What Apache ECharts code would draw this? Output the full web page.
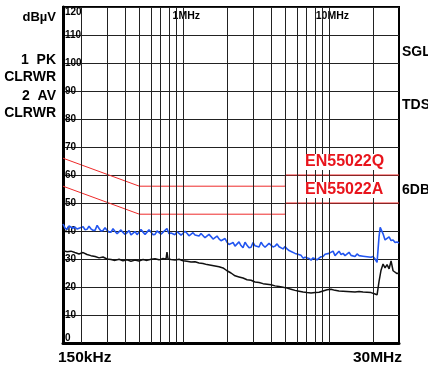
<!DOCTYPE html>
<html>
<head>
<meta charset="utf-8">
<script src="https://cdn.jsdelivr.net/npm/echarts@6/dist/echarts.min.js"></script>
<style>
html,body{margin:0;padding:0;background:#fff;}
#chart{width:428px;height:368px;}
</style>
</head>
<body>
<div id="chart"></div>
<script>
// Frequencies in MHz, levels in dBµV
const peakFreq = [0.150,0.155,0.160,0.165,0.170,0.175,0.181,0.187,0.193,0.199,0.206,0.212,0.219,0.226,0.233,0.241,0.249,0.257,0.265,0.273,0.282,0.291,0.300,0.310,0.320,0.330,0.341,0.352,0.363,0.374,0.386,0.399,0.412,0.425,0.438,0.452,0.467,0.482,0.497,0.513,0.530,0.547,0.564,0.582,0.601,0.620,0.640,0.661,0.682,0.704,0.726,0.749,0.773,0.798,0.824,0.850,0.877,0.906,0.935,0.965,0.995,1.027,1.060,1.094,1.129,1.165,1.203,1.241,1.281,1.322,1.364,1.408,1.453,1.500,1.548,1.598,1.649,1.702,1.756,1.813,1.871,1.931,1.992,2.056,2.122,2.190,2.260,2.332,2.407,2.484,2.564,2.646,2.731,2.819,2.910,3.003,3.099,3.198,3.301,3.407,3.516,3.629,3.745,3.865,3.989,4.117,4.249,4.385,4.526,4.671,4.820,4.975,5.134,5.299,5.469,5.644,5.825,6.012,6.204,6.403,6.608,6.820,7.038,7.263,7.496,7.735,7.982,8.238,8.502,8.775,9.057,9.347,9.646,9.953,10.27,10.60,10.94,11.29,11.65,12.03,12.42,12.81,13.22,13.64,14.08,14.53,15.00,15.48,15.98,16.49,17.02,17.56,18.12,18.70,19.30,19.92,20.56,21.23,21.90,22.30,23.33,24.08,24.85,25.66,26.47,27.32,28.19,29.10,30.00];
const peakLevel = [42.5,41.0,40.6,41.8,42.2,41.0,41.4,40.7,41.0,40.4,41.5,40.5,40.6,41.7,40.8,40.2,40.3,42.0,40.9,40.0,40.2,41.2,40.3,39.6,39.6,40.8,39.8,39.0,39.2,40.4,39.5,38.8,39.4,40.2,38.6,39.3,39.8,38.7,39.0,40.5,39.6,38.8,39.2,40.4,39.6,38.7,38.8,40.0,40.6,38.9,39.1,40.2,40.9,39.0,39.3,38.6,38.7,39.8,39.4,38.5,38.9,39.9,39.2,38.3,38.5,39.4,38.6,37.9,38.2,39.1,38.4,37.6,37.8,38.8,38.0,37.1,37.5,38.2,37.2,36.5,36.8,37.3,36.0,35.2,35.5,35.9,34.6,34.2,36.1,34.8,34.0,36.0,34.9,34.0,34.2,35.9,34.7,34.0,34.3,36.0,34.9,34.2,34.1,35.6,34.9,34.3,34.6,35.4,34.4,33.9,33.6,34.5,33.6,33.0,32.7,32.9,32.0,31.8,31.1,31.3,30.3,30.6,29.9,30.2,29.6,30.4,30.0,29.7,30.3,30.8,30.9,31.7,31.2,32.0,31.6,32.8,31.2,31.9,32.8,31.6,32.0,31.2,31.5,32.4,31.3,31.6,30.9,31.8,31.2,30.8,31.0,31.5,30.8,31.1,30.6,30.9,30.0,28.8,38.0,41.3,39.0,36.8,37.2,37.9,36.6,36.8,35.9,36.1,35.7];

const avgFreq = [0.150,0.160,0.170,0.181,0.193,0.206,0.219,0.233,0.249,0.265,0.282,0.300,0.320,0.341,0.363,0.386,0.412,0.438,0.467,0.497,0.530,0.564,0.601,0.640,0.682,0.726,0.761,0.773,0.786,0.824,0.877,0.935,0.995,1.060,1.129,1.203,1.281,1.364,1.453,1.548,1.649,1.756,1.871,1.992,2.122,2.260,2.407,2.564,2.731,2.910,3.099,3.301,3.516,3.745,3.989,4.249,4.526,4.820,5.134,5.469,5.825,6.204,6.608,7.038,7.496,7.982,8.502,9.057,9.646,10.27,10.94,11.65,12.42,13.22,14.08,15.00,15.98,17.02,18.12,19.30,20.56,21.23,21.90,22.60,23.33,24.08,24.85,25.66,26.47,27.32,28.19,29.10,30.00];
const avgLevel = [33.0,32.6,32.8,32.3,31.8,32.3,31.6,31.2,30.9,30.4,30.7,30.0,29.8,29.5,29.9,29.4,29.7,29.2,29.6,29.3,29.8,29.5,29.9,30.1,29.7,30.2,29.9,32.5,30.0,29.8,29.6,29.9,29.4,29.2,28.9,29.0,28.6,28.4,28.0,27.8,27.5,27.2,26.8,25.8,25.0,24.0,23.6,23.2,22.6,22.4,21.8,21.6,21.2,21.0,20.8,20.4,20.2,19.9,19.6,19.2,18.8,18.5,18.2,18.0,17.9,18.0,18.1,18.6,19.0,19.2,18.8,18.6,18.5,18.4,18.3,18.2,18.4,18.2,18.1,18.0,17.5,17.2,22.0,26.0,28.2,26.8,28.0,26.5,29.3,25.8,26.4,24.8,25.0];

// Limit lines (EN55022 class B)
const limitFreq = [0.15,0.5,5,5,30];
const limitQP = [66,56,56,60,60];
const limitAV = [56,46,46,50,50];

// Vertical grid frequencies (MHz)
const gridFreqs = [0.2,0.3,0.4,0.5,0.6,0.7,0.8,0.9,1,2,3,4,5,6,7,8,9,10,20];

const FONT = '"Liberation Sans", Arial, sans-serif';
const zip = (xs, ys) => xs.map((x, i) => [x, ys[i]]);

const chart = echarts.init(document.getElementById('chart'), null, {renderer:'canvas'});

const option = {
  animation: false,
  backgroundColor: '#fff',
  grid: {left: 63, right: 29, top: 7, bottom: 25, show: true, borderColor: '#000', borderWidth: 2, backgroundColor: '#fff'},
  xAxis: [
    {type: 'log', logBase: 10, min: 0.15, max: 30,
     axisLine: {show: true, onZero: false, lineStyle: {color: '#000', width: 3}},
     axisTick: {show: false}, axisLabel: {show: false}, splitLine: {show: false}},
    {type: 'log', logBase: 10, min: 0.15, max: 30, position: 'top',
     axisLine: {show: false}, axisTick: {show: false}, splitLine: {show: false},
     axisLabel: {inside: true, margin: 3, showMinLabel: false, showMaxLabel: false,
       color: '#000', fontFamily: FONT, fontWeight: 'bold', fontSize: 10.5,
       backgroundColor: '#fff', padding: [1, 1, 0, 7],
       formatter: v => Math.abs(v - 1) < 1e-6 ? '1MHz' : (Math.abs(v - 10) < 1e-5 ? '10MHz' : '')}}
  ],
  yAxis: {
    type: 'value', min: 0, max: 120, interval: 10,
    axisLine: {show: true, onZero: false, lineStyle: {color: '#000', width: 3}},
    axisTick: {show: false},
    splitLine: {show: true, lineStyle: {color: '#222', width: 1}},
    axisLabel: {inside: true, margin: 2, color: '#000', fontFamily: FONT, fontWeight: 'bold', fontSize: 10,
      verticalAlignMinLabel: 'bottom', verticalAlignMaxLabel: 'top'}
  },
  series: [
    {name: 'grid', type: 'line', data: [], z: 1, silent: true,
     markLine: {silent: true, symbol: ['none', 'none'], label: {show: false},
       lineStyle: {color: '#222', width: 1, type: 'solid'},
       emphasis: {disabled: true},
       data: gridFreqs.map(f => ({xAxis: f}))}},
    {name: 'EN55022Q', type: 'line', data: zip(limitFreq, limitQP), symbol: 'none', z: 3,
     lineStyle: {color: '#ee2a2a', width: 1}},
    {name: 'EN55022A', type: 'line', data: zip(limitFreq, limitAV), symbol: 'none', z: 3,
     lineStyle: {color: '#ee2a2a', width: 1}},
    {name: '1 PK', type: 'line', data: zip(peakFreq, peakLevel), symbol: 'none', z: 4,
     lineStyle: {color: '#2356f0', width: 1.6}},
    {name: '2 AV', type: 'line', data: zip(avgFreq, avgLevel), symbol: 'none', z: 5,
     lineStyle: {color: '#111', width: 1.5}}
  ],
  graphic: [
    {type: 'text', x: 56, y: 17, style: {text: 'dBµV', font: 'bold 13px ' + FONT, fill: '#000', align: 'right', verticalAlign: 'middle'}},
    {type: 'text', x: 56, y: 60, style: {text: '1  PK', font: 'bold 14px ' + FONT, fill: '#000', align: 'right', verticalAlign: 'middle'}},
    {type: 'text', x: 56, y: 77, style: {text: 'CLRWR', font: 'bold 14px ' + FONT, fill: '#000', align: 'right', verticalAlign: 'middle'}},
    {type: 'text', x: 56, y: 96, style: {text: '2  AV', font: 'bold 14px ' + FONT, fill: '#000', align: 'right', verticalAlign: 'middle'}},
    {type: 'text', x: 56, y: 113, style: {text: 'CLRWR', font: 'bold 14px ' + FONT, fill: '#000', align: 'right', verticalAlign: 'middle'}},
    {type: 'text', x: 402, y: 52, style: {text: 'SGL', font: 'bold 14px ' + FONT, fill: '#000', align: 'left', verticalAlign: 'middle'}},
    {type: 'text', x: 402, y: 105, style: {text: 'TDS', font: 'bold 14px ' + FONT, fill: '#000', align: 'left', verticalAlign: 'middle'}},
    {type: 'text', x: 402, y: 190, style: {text: '6DB', font: 'bold 14px ' + FONT, fill: '#000', align: 'left', verticalAlign: 'middle'}},
    {type: 'text', x: 58, y: 358, style: {text: '150kHz', font: 'bold 15.5px ' + FONT, fill: '#000', align: 'left', verticalAlign: 'middle'}},
    {type: 'text', x: 402, y: 358, style: {text: '30MHz', font: 'bold 15.5px ' + FONT, fill: '#000', align: 'right', verticalAlign: 'middle'}},
    {type: 'text', x: 304, y: 162, z: 10, style: {text: 'EN55022Q', font: 'bold 16px ' + FONT, fill: '#e8141c', align: 'left', verticalAlign: 'middle', backgroundColor: '#fff', padding: [0, 1]}},
    {type: 'text', x: 304, y: 190, z: 10, style: {text: 'EN55022A', font: 'bold 16px ' + FONT, fill: '#e8141c', align: 'left', verticalAlign: 'middle', backgroundColor: '#fff', padding: [0, 1]}}
  ]
};
chart.setOption(option);
</script>
</body>
</html>
